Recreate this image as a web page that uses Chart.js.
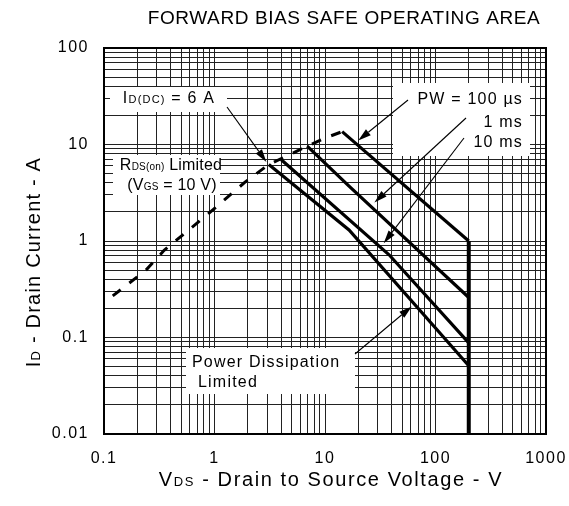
<!DOCTYPE html>
<html><head><meta charset="utf-8">
<script src="https://cdn.jsdelivr.net/npm/chart.js@4"></script>
<style>html,body{margin:0;padding:0;background:#fff}</style>
</head><body>
<canvas id="c" width="569" height="506"></canvas>
<script>
// ---- data (V, A) ----
const xGridValues = [0.1,0.2,0.3,0.4,0.5,0.6,0.7,0.8,0.9,1,2,3,4,5,6,7,8,9,10,20,30,40,50,60,70,80,90,100,200,300,400,500,600,700,800,900,1000];
const yGridValues = [0.01,0.02,0.03,0.04,0.05,0.06,0.07,0.08,0.09,0.1,0.2,0.3,0.4,0.5,0.6,0.7,0.8,0.9,1,2,3,4,5,6,7,8,9,10,20,30,40,50,60,70,80,90,100];
const xTickLabels = ['0.1','1','10','100','1000'];
const yTickLabels = ['0.01','0.1','1','10','100'];

const rdsV = [0.12, 0.24, 0.35, 0.92, 1.9, 3.1, 6.9, 10.1, 14.3];
const rdsI = [0.27, 0.5, 0.8, 2.0, 4.1, 6.2, 9.6, 11.7, 13.6];
const pw100V = [14.3, 200];
const pw100I = [13.6, 1.0];
const ms1V = [6.9, 16.5, 200];
const ms1I = [9.6, 3.7, 0.26];
const ms10V = [4.0, 38, 200];
const ms10I = [7.0, 0.72, 0.088];
const dcV = [3.1, 16.5, 200];
const dcI = [6.2, 1.3, 0.051];
const limitV = [200, 200];
const limitI = [1.0, 0.01];

const FONT = "'Liberation Sans', Arial, sans-serif";
function pts(xs, ys){ return xs.map((v,i)=>({x:v, y:ys[i]})); }
function line(xs, ys, w, dash){
  return {data: pts(xs, ys), borderColor:'#000', borderWidth:w, borderDash:dash||[],
          pointRadius:0, fill:false, tension:0, borderJoinStyle:'miter', borderCapStyle:'butt'};
}
function labelFor(list){
  return (v)=>{ const m = list.find(l=>Math.abs(parseFloat(l)-v)/v < 1e-6); return m===undefined ? '' : m; };
}

function rich(ctx, parts, x, y, align, ls){
  ctx.letterSpacing = (ls===undefined ? 1.2 : ls) + 'px';
  let w = 0;
  parts.forEach(p=>{ ctx.font = p[1]+'px '+FONT; p.w = ctx.measureText(p[0]).width; w += p.w; });
  let cx = align==='right' ? x - w : align==='center' ? x - w/2 : x;
  ctx.textAlign = 'left'; ctx.textBaseline = 'alphabetic';
  parts.forEach(p=>{ ctx.font = p[1]+'px '+FONT; ctx.fillText(p[0], cx, y); cx += p.w; });
}
function arrow(ctx, x1, y1, x2, y2){
  const a = Math.atan2(y2-y1, x2-x1), L = 13, W = 3.8;
  const bx = x2 - L*Math.cos(a), by = y2 - L*Math.sin(a);
  ctx.beginPath(); ctx.moveTo(x1,y1); ctx.lineTo(bx,by);
  ctx.lineWidth = 1.1; ctx.strokeStyle = '#000'; ctx.stroke();
  ctx.beginPath(); ctx.moveTo(x2,y2);
  ctx.lineTo(bx + W*Math.sin(a), by - W*Math.cos(a));
  ctx.lineTo(bx - W*Math.sin(a), by + W*Math.cos(a));
  ctx.closePath(); ctx.fillStyle = '#000'; ctx.fill();
}

const annot = {
  id: 'annot',
  beforeDraw(chart){ chart.ctx.letterSpacing = '1.5px'; },
  beforeDatasetsDraw(chart){
    const ctx = chart.ctx, L = chart.chartArea.left, T = chart.chartArea.top;
    ctx.save(); ctx.fillStyle = '#fff';
    ctx.fillRect(L+6, T+39, 117, 25);
    ctx.fillRect(L+9, T+107, 107, 40);
    ctx.fillRect(L+289, T+35, 137, 73);
    ctx.fillRect(L+82, T+300, 169, 46);
    ctx.restore();
  },
  afterDatasetsDraw(chart){
    const ctx = chart.ctx, a = chart.chartArea, L = a.left, T = a.top;
    const X = chart.scales.x, Y = chart.scales.y;
    ctx.save();
    ctx.fillStyle = '#000';
    rich(ctx, [['I',16],['D(DC)',11],[' = 6 A',16]], L+65, T+55, 'center', 1.2);
    rich(ctx, [['R',16],['DS(on)',10],[' Limited',16]], L+67, T+122, 'center', 0.2);
    rich(ctx, [['(V',16],['GS',10],[' = 10 V)',16]], L+68, T+142, 'center', 0.2);
    rich(ctx, [['PW = 100 \u00b5s',16]], L+419, T+56, 'right', 1.2);
    rich(ctx, [['1 ms',16]], L+419, T+79, 'right', 1.2);
    rich(ctx, [['10 ms',16]], L+419, T+99, 'right', 1.2);
    rich(ctx, [['Power Dissipation',16]], L+88, T+319, 'left', 1.2);
    rich(ctx, [['Limited',16]], L+94, T+339, 'left', 1.2);
    arrow(ctx, L+123, T+59, X.getPixelForValue(2.95), Y.getPixelForValue(6.6));
    arrow(ctx, L+304, T+52, X.getPixelForValue(20), Y.getPixelForValue(11));
    arrow(ctx, L+362, T+70, X.getPixelForValue(28), Y.getPixelForValue(2.5));
    arrow(ctx, L+360, T+90, X.getPixelForValue(34), Y.getPixelForValue(0.95));
    arrow(ctx, L+251, T+306, X.getPixelForValue(61), Y.getPixelForValue(0.21));
    ctx.lineWidth = 2; ctx.strokeStyle = '#000';
    ctx.strokeRect(a.left, a.top, a.right-a.left, a.bottom-a.top);
    rich(ctx, [['FORWARD BIAS SAFE OPERATING AREA',19]], 344, 24, 'center', 0.6);
    rich(ctx, [['V',20],['DS',13],[' - Drain to Source Voltage - V',20]], 331, 486, 'center', 1.6);
    ctx.translate(40, 262); ctx.rotate(-Math.PI/2);
    rich(ctx, [['I',20],['D',13],[' - Drain Current - A',20]], 0, 0, 'center', 1.2);
    ctx.restore();
  }
};

const gridOpts = {color:'#222', lineWidth:1, drawTicks:false};
new Chart(document.getElementById('c'), {
  type: 'line',
  data: { datasets: [
    line(rdsV, rdsI, 3, [10, 11]),
    line(pw100V, pw100I, 3.2),
    line(ms1V, ms1I, 3.2),
    line(ms10V, ms10I, 3.2),
    line(dcV, dcI, 3.2),
    line(limitV, limitI, 4)
  ]},
  options: {
    responsive: false, animation: false, devicePixelRatio: 1,
    layout: {padding: {left: 0, top: 48, right: 23, bottom: 0}},
    plugins: {legend: {display:false}, tooltip: {enabled:false}},
    scales: {
      x: {type:'logarithmic', min:0.1, max:1000,
          afterBuildTicks: s=>{ s.ticks = xGridValues.map(v=>({value:v})); },
          afterFit: s=>{ s.height = 72; s.paddingLeft = 0; s.paddingRight = 0; },
          grid: gridOpts, border:{display:false},
          ticks: {autoSkip:false, maxRotation:0, padding:15, color:'#000',
                  font:{family:FONT, size:16}, callback: labelFor(xTickLabels)}},
      y: {type:'logarithmic', min:0.01, max:100,
          afterBuildTicks: s=>{ s.ticks = yGridValues.map(v=>({value:v})); },
          afterFit: s=>{ s.width = 104; s.paddingTop = 0; s.paddingBottom = 0; },
          grid: gridOpts, border:{display:false},
          ticks: {autoSkip:false, padding:15, color:'#000',
                  font:{family:FONT, size:16}, callback: labelFor(yTickLabels)}}
    }
  },
  plugins: [annot]
});
</script>
</body></html>
